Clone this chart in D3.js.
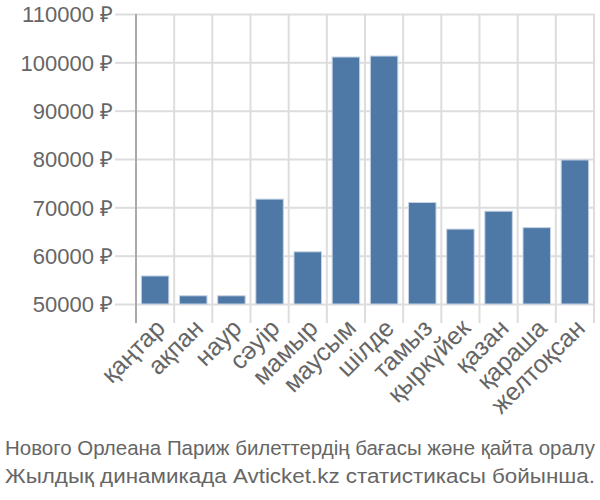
<!DOCTYPE html>
<html>
<head>
<meta charset="utf-8">
<script src="https://cdn.jsdelivr.net/npm/d3@7"></script>
<style>
  body { margin: 0; background: #fff; }
  text { font-family: "Liberation Sans", Arial, sans-serif; fill: #666; }
</style>
</head>
<body>
<svg width="600" height="500"></svg>
<script>
var months = ["қаңтар", "ақпан", "наур", "сәуір", "мамыр", "маусым", "шілде", "тамыз", "қыркүйек", "қазан", "қараша", "желтоқсан"];
var prices = [55800, 51700, 51700, 71700, 60800, 101100, 101300, 71000, 65500, 69200, 65800, 79800];
var yTicks = [50000, 60000, 70000, 80000, 90000, 100000, 110000];
var captionLines = ["Нового Орлеана Париж билеттердің бағасы және қайта оралу", "Жылдық динамикада Avticket.kz статистикасы бойынша."];

var svg = d3.select("svg"),
    margin = {top: 14, right: 6, bottom: 196, left: 136},
    width = svg.attr("width") - margin.left - margin.right,
    height = svg.attr("height") - margin.top - margin.bottom,
    g = svg.append("g").attr("transform", "translate(" + margin.left + "," + margin.top + ")");

var xScale = d3.scaleBand().domain(months).range([0, width]).paddingInner(0.28).paddingOuter(0.14),
    edgeScale = d3.scaleLinear().domain([0, months.length]).range([0, width]),
    yScale = d3.scaleLinear().domain([50000, 110000]).range([height, 0]);

// horizontal grid + y ticks
var yAxis = d3.axisLeft(yScale)
    .tickValues(yTicks)
    .tickSize(21)
    .tickPadding(2)
    .tickFormat(function (d) { return d + " ₽"; });
var gY = g.append("g").call(yAxis);
gY.select(".domain").remove();
gY.selectAll(".tick line").attr("stroke", "#ddd").attr("stroke-width", 2);
gY.selectAll(".tick").append("line")
    .attr("x1", 0).attr("x2", width)
    .attr("stroke", "#ddd").attr("stroke-width", 2);
gY.selectAll(".tick text").style("font-size", "22px").attr("fill", "#666").attr("dy", "0.35em");

// vertical grid at band edges, extending below as ticks
var edges = d3.range(months.length + 1);
g.append("g").selectAll("line")
    .data(edges)
    .enter().append("line")
    .attr("x1", function (d) { return edgeScale(d); })
    .attr("x2", function (d) { return edgeScale(d); })
    .attr("y1", 0)
    .attr("y2", height + 19)
    .attr("stroke", "#ddd")
    .attr("stroke-width", 2);

// y axis line
g.append("line")
    .attr("x1", 0).attr("x2", 0)
    .attr("y1", 0).attr("y2", height + 19)
    .attr("stroke", "#aaa").attr("stroke-width", 2);

// bars
g.selectAll(".bar")
    .data(months)
    .enter().append("rect")
    .attr("class", "bar")
    .attr("x", function (d) { return xScale(d); })
    .attr("width", xScale.bandwidth())
    .attr("y", function (d, i) { return yScale(prices[i]); })
    .attr("height", function (d, i) { return height - yScale(prices[i]); })
    .attr("fill", "#4e79a7")
    .attr("stroke", "#c5d3e3")
    .attr("stroke-width", 1);

// x labels
g.append("g").selectAll("text")
    .data(months)
    .enter().append("text")
    .attr("transform", function (d) {
        return "translate(" + (xScale(d) + xScale.bandwidth() / 2 + 1) + "," + (height + 15) + ") rotate(-45)";
    })
    .attr("text-anchor", "end")
    .attr("dy", "0.6em")
    .style("font-size", "25px")
    .text(function (d) { return d; });

// caption
svg.append("g").selectAll("text")
    .data(captionLines)
    .enter().append("text")
    .attr("x", 300)
    .attr("y", function (d, i) { return 455 + i * 28; })
    .attr("text-anchor", "middle")
    .attr("textLength", 590)
    .attr("lengthAdjust", "spacingAndGlyphs")
    .style("font-size", "20.5px")
    .text(function (d) { return d; });
</script>
</body>
</html>
